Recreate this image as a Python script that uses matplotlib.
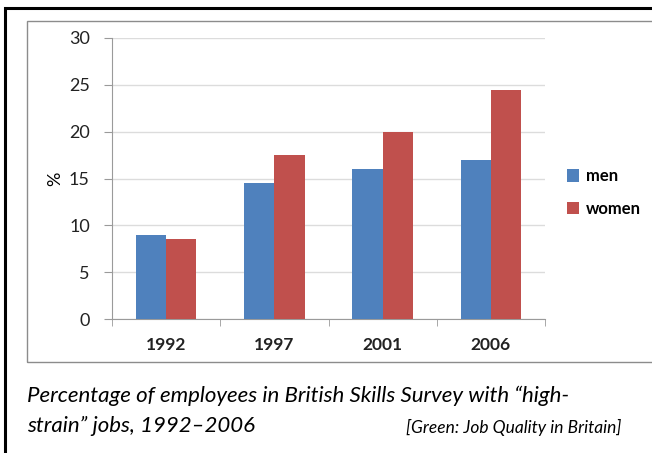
import matplotlib.pyplot as plt
import numpy as np
from matplotlib.patches import Rectangle

years = ['1992', '1997', '2001', '2006']
men = [9, 14.5, 16, 17]
women = [8.5, 17.5, 20, 24.5]
yticks = [0, 5, 10, 15, 20, 25, 30]

plt.rcParams['font.family'] = ['Lato', 'DejaVu Sans']

fig = plt.figure(figsize=(6.52, 4.53), dpi=100)
W, H = 652.0, 453.0

# outer black frame and grey chart frame
fig.patches.append(Rectangle((5 / W, 0 - 0.05), 1.2, 1 - 8 / H + 0.05, transform=fig.transFigure,
                             fill=False, edgecolor='black', linewidth=2.2))
fig.patches.append(Rectangle((27 / W, 1 - 362 / H), 1.2, (362 - 21) / H, transform=fig.transFigure,
                             fill=False, edgecolor='#8c8c8c', linewidth=1.0))

ax = fig.add_axes([112 / W, 1 - 319 / H, (545 - 112) / W, (319 - 38) / H])
x = np.arange(len(years))
w = 0.28
ax.bar(x - w / 2, men, w, color='#4F81BD', label='men', zorder=3)
ax.bar(x + w / 2, women, w, color='#C0504D', label='women', zorder=3)

ax.set_xlim(-0.5, len(years) - 0.5)
ax.set_ylim(0, 30)
ax.set_yticks(yticks)
ax.set_yticklabels([str(v) for v in yticks], fontsize=13, color='#222222')
ax.set_xticks(x)
ax.set_xticklabels(years, fontsize=12.5, fontweight='bold', color='#222222')
ax.set_xticks(np.arange(len(years) + 1) - 0.5, minor=True)
ax.tick_params(axis='x', which='major', length=0, pad=13)
ax.tick_params(axis='x', which='minor', length=5, color='#9a9a9a', direction='out')
ax.tick_params(axis='y', length=6, color='#9a9a9a', pad=10)
ax.grid(axis='y', color='#dcdcdc', linewidth=1.0, zorder=0)
ax.set_axisbelow(True)
for s in ['top', 'right']:
    ax.spines[s].set_visible(False)
for s in ['left', 'bottom']:
    ax.spines[s].set_color('#9a9a9a')
ax.set_ylabel('%', fontsize=13, labelpad=4)

ax.legend(loc='center left', bbox_to_anchor=(1.05, 0.45), frameon=False,
          prop={'weight': 'bold', 'size': 12}, handlelength=0.75, handleheight=0.75,
          labelspacing=1.0, handletextpad=0.4, borderpad=0, borderaxespad=0)

fig.text(27 / W, 1 - 396 / H, 'Percentage of employees in British Skills Survey with \u201chigh-',
         fontsize=16, style='italic', va='center', ha='left')
fig.text(27 / W, 1 - 426 / H, 'strain\u201d jobs, 1992\u20132006',
         fontsize=16, style='italic', va='center', ha='left')
fig.text(621 / W, 1 - 427 / H, '[Green: Job Quality in Britain]',
         fontsize=12.5, style='italic', va='center', ha='right')

fig.savefig('out.png', dpi=100)
